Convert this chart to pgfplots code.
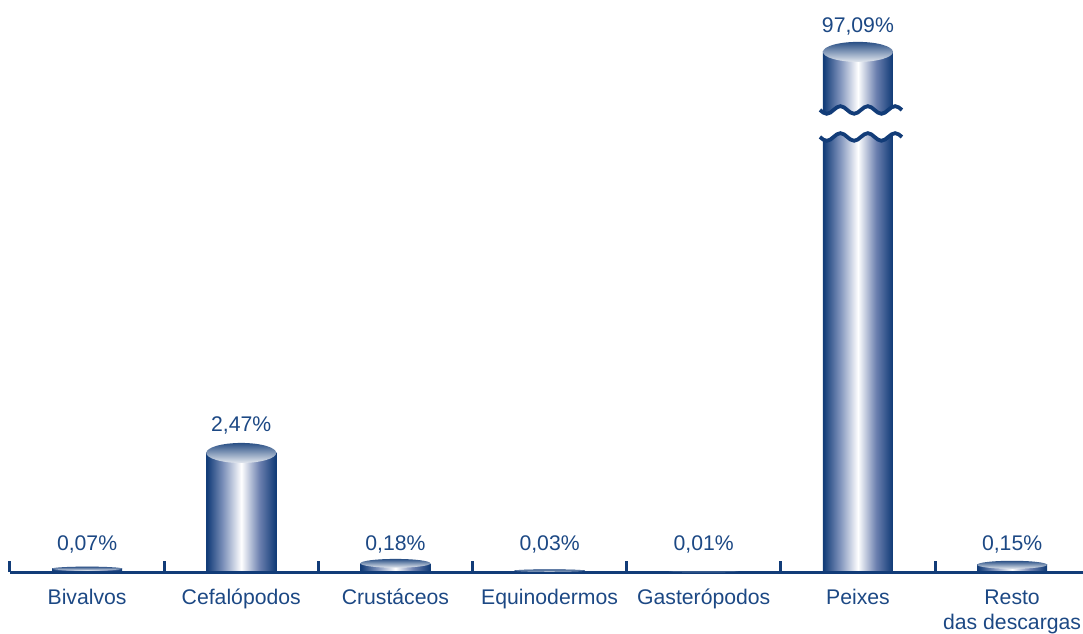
\documentclass[border=0pt]{standalone}
\usepackage{pgfplots}
\usepackage{pgfplotstable}
\pgfplotsset{compat=1.18}
\usepackage{fontspec}
\setmainfont{Liberation Sans}
\definecolor{navy}{RGB}{18,60,120}
\definecolor{txt}{RGB}{28,72,132}
\definecolor{bmid}{RGB}{125,145,186}
\definecolor{bmid2}{RGB}{108,128,175}
\pgfdeclarehorizontalshading{cyl}{100bp}{color(0bp)=(navy); color(25.5bp)=(navy); color(37bp)=(bmid); color(50bp)=(white); color(63bp)=(bmid2); color(74.5bp)=(navy); color(100bp)=(navy)}
\pgfdeclareplotmark{cyltop}{\shade[draw=none, top color=navy!90!white, bottom color=navy!12!white] (0pt,0pt) ellipse [x radius=17.5pt, y radius=\ry pt];}

% true values (val); drawn heights (h, Peixes broken); top ellipse half height (ry, pt); label baseline (ly)
\pgfplotstableread{
x val h ry ly lab
0 0.07 0.07 1.0 0.436 {0,07\%}
1 2.47 2.47 5.0 2.905 {2,47\%}
2 0.18 0.18 2.2 0.436 {0,18\%}
3 0.03 0.03 0.6 0.436 {0,03\%}
4 0.01 0.01 0.3 0.436 {0,01\%}
5 97.09 10.79 5.0 11.20 {97,09\%}
6 0.15 0.15 2.0 0.436 {0,15\%}
}\data

\newcommand{\lblfont}{\fontsize{10.6}{12.5}\selectfont}

\begin{document}
\begin{tikzpicture}
\begin{axis}[
  scale only axis, width=536.5pt, height=284.4pt,
  xmin=-0.5, xmax=6.46, ymin=0, ymax=11.8,
  axis x line=bottom, axis y line=none,
  axis line style={-, draw=navy, line width=1.5pt},
  axis on top, clip=false,
  xtick={0,...,6},
  xticklabels={Bivalvos,Cefalópodos,Crustáceos,Equinodermos,Gasterópodos,Peixes,{\begin{tabular}[t]{@{}c@{}}Resto\\das descargas\end{tabular}}},
  major tick length=0pt,
  extra x ticks={-0.5,0.5,1.5,2.5,3.5,4.5,5.5},
  extra x tick labels={},
  extra x tick style={major tick length=5.5pt, xtick align=inside, tick style={draw=navy, line width=1.5pt}},
  xticklabel style={font=\lblfont, text=txt, anchor=base, yshift=-16pt},
]
\pgfplotsinvokeforeach{0,...,6}{
  \addplot[ybar, bar width=35pt, bar shift=0pt, draw=none, shade, shading=cyl,
    x filter/.expression={abs(x-#1)<0.1 ? x : nan}] table[x=x,y=h] {\data};
}
\addplot[only marks, mark=cyltop, mark options={draw=none}, visualization depends on={\thisrow{ry}\as\ry}] table[x=x,y=h] {\data};
\addplot[only marks, mark=*, mark size=0pt, mark options={draw=none,fill=none},
  nodes near coords, point meta=explicit symbolic,
  nodes near coords style={anchor=base, text=txt, font=\lblfont, inner sep=0pt}]
  table[x=x,y=ly,meta=lab] {\data};
\coordinate (bu) at (axis cs:5,9.585);
\coordinate (bl) at (axis cs:5,9.025);
\coordinate (BL) at (rel axis cs:0,0);
\coordinate (BR) at (rel axis cs:1,0);
\end{axis}
\def\q{3.4167pt}
\def\A{1.9pt}
\fill[white, shift={(bu)}] (-19pt,0)
  sin ++(\q,-\A) cos ++(\q,\A) sin ++(\q,\A) cos ++(\q,-\A)
  sin ++(\q,-\A) cos ++(\q,\A) sin ++(\q,\A) cos ++(\q,-\A)
  sin ++(\q,-\A) cos ++(\q,\A) sin ++(\q,\A) cos ++(\q,-\A)
  -- ++(0,-13.5pt)
  sin ++(-\q,\A) cos ++(-\q,-\A) sin ++(-\q,-\A) cos ++(-\q,\A)
  sin ++(-\q,\A) cos ++(-\q,-\A) sin ++(-\q,-\A) cos ++(-\q,\A)
  sin ++(-\q,\A) cos ++(-\q,-\A) sin ++(-\q,-\A) cos ++(-\q,\A)
  -- cycle;
\foreach \c in {bu,bl}{
\draw[navy, line width=1.9pt, shift={(\c)}] (-19pt,0)
  sin ++(\q,-\A) cos ++(\q,\A) sin ++(\q,\A) cos ++(\q,-\A)
  sin ++(\q,-\A) cos ++(\q,\A) sin ++(\q,\A) cos ++(\q,-\A)
  sin ++(\q,-\A) cos ++(\q,\A) sin ++(\q,\A) cos ++(\q,-\A);
}
\pgfresetboundingbox
\path ([shift={(-5pt,-30.5pt)}]BL) rectangle ([yshift=286pt]BR);
\end{tikzpicture}
\end{document}
